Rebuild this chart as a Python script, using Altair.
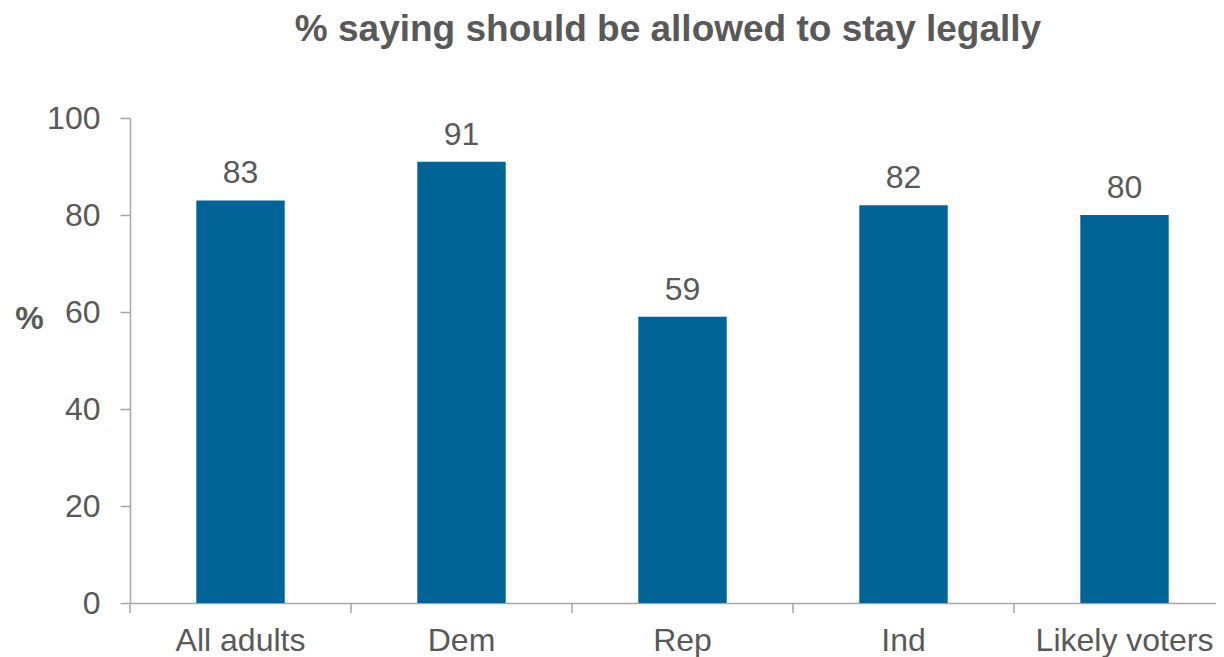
import altair as alt
import pandas as pd

categories = ["All adults", "Dem", "Rep", "Ind", "Likely voters"]
values = [83, 91, 59, 82, 80]
y_ticks = [0, 20, 40, 60, 80, 100]

df = pd.DataFrame({"cat": categories, "val": values})

FONT = "Liberation Sans"
TXT = "#595959"
GRAY = "#a6a6a6"
BAR = "#006496"

xscale = alt.Scale(range=[0, 1105], paddingInner=0.6, paddingOuter=0.3)
tickscale = alt.Scale(range=[0, 1105], paddingInner=0, paddingOuter=0)

base = alt.Chart(df)

bars = base.mark_bar(color=BAR).encode(
    x=alt.X("cat:N", sort=categories, scale=xscale,
            axis=alt.Axis(title=None, labelAngle=0, ticks=False, domainColor=GRAY,
                          domainWidth=1.5, labelFontSize=32, labelColor=TXT,
                          labelFont=FONT, labelPadding=22)),
    y=alt.Y("val:Q", scale=alt.Scale(domain=[0, 100]),
            axis=alt.Axis(values=y_ticks, grid=False, tickSize=10, tickColor=GRAY,
                          tickWidth=1.5, domainColor=GRAY, domainWidth=1.5,
                          labelFontSize=32, labelColor=TXT, labelFont=FONT,
                          labelPadding=20, title="%", titleAngle=0,
                          titleFontSize=32, titleFontWeight="bold", titleColor=TXT,
                          titleFont=FONT, titleX=-101, titleY=200,
                          titleAlign="center", titleBaseline="middle")),
)

labels = base.mark_text(dy=-17, baseline="alphabetic", fontSize=32, color=TXT,
                        font=FONT).encode(
    x=alt.X("cat:N", sort=categories, scale=xscale),
    y=alt.Y("val:Q"),
    text=alt.Text("val:Q"),
)

main = alt.layer(bars, labels)

ticks = base.mark_rule(color=GRAY, strokeWidth=1.5).encode(
    x=alt.X("cat:N", sort=categories, scale=tickscale, bandPosition=0, axis=None),
    y=alt.value(485),
    y2=alt.value(495),
)

chart = alt.layer(main, ticks).resolve_scale(x="independent").properties(
    width=1086,
    height=485,
    autosize=alt.AutoSizeParams(type="none"),
    padding={"left": 122, "top": 110, "right": 0, "bottom": 62},
    title=alt.TitleParams("% saying should be allowed to stay legally",
                          fontSize=37, fontWeight="bold", color=TXT, font=FONT,
                          anchor="middle", frame="group", dx=-5, offset=53),
).configure_view(strokeWidth=0)

chart.save("out.html", embed_options={"renderer": "svg", "actions": False})
